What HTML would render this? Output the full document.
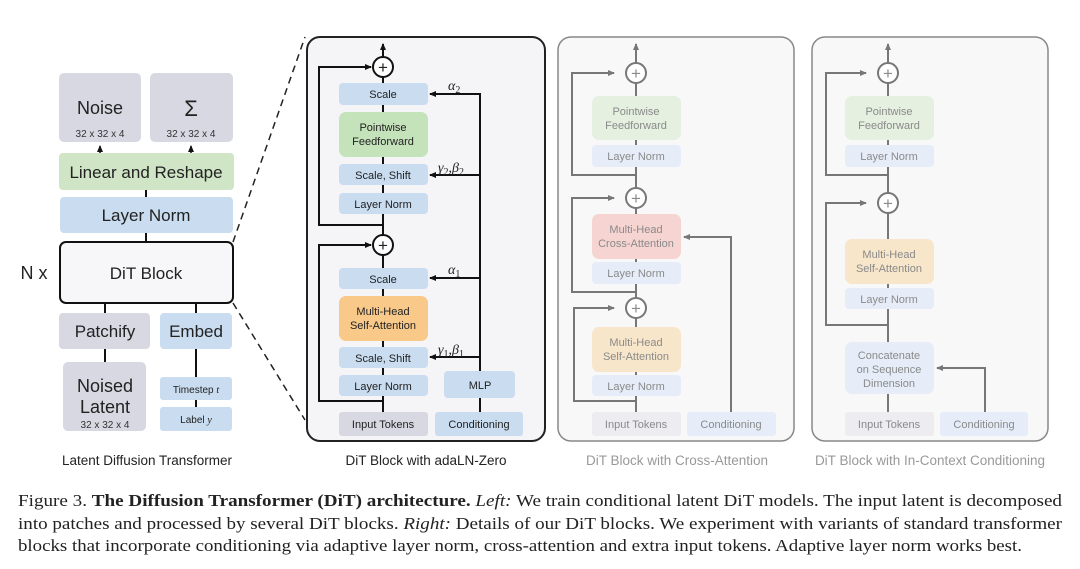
<!DOCTYPE html>
<html><head><meta charset="utf-8"><style>
html,body{margin:0;padding:0;background:#fff;}
svg{display:block;}
text{font-family:"Liberation Sans",sans-serif;}
.s{font-family:"Liberation Serif",serif;}
</style></head><body>
<svg width="1080" height="569" viewBox="0 0 1080 569" xmlns="http://www.w3.org/2000/svg">
<defs>
<marker id="a" markerWidth="8" markerHeight="8" refX="6" refY="4" orient="auto" markerUnits="userSpaceOnUse"><path d="M0,1 L7,4 L0,7 z" fill="#111"/></marker>
<marker id="g" markerWidth="8" markerHeight="8" refX="6" refY="4" orient="auto" markerUnits="userSpaceOnUse"><path d="M0,1 L7,4 L0,7 z" fill="#777"/></marker>
</defs>
<rect width="1080" height="569" fill="#fff"/>

<!-- LEFT PANEL -->
<g>
<line x1="233" y1="242" x2="305" y2="37" stroke="#222" stroke-width="1.5" stroke-dasharray="7,5"/>
<line x1="233" y1="303" x2="305" y2="420" stroke="#222" stroke-width="1.5" stroke-dasharray="7,5"/>
<rect x="59" y="73" width="82" height="69" rx="5" fill="#d8d8e2"/>
<text x="100" y="114" font-size="18" text-anchor="middle" fill="#222">Noise</text>
<text x="100" y="137" font-size="10" text-anchor="middle" fill="#333">32 x 32 x 4</text>
<rect x="150" y="73" width="83" height="69" rx="5" fill="#d8d8e2"/>
<text x="191" y="116" font-size="22" text-anchor="middle" fill="#222">Σ</text>
<text x="191" y="137" font-size="10" text-anchor="middle" fill="#333">32 x 32 x 4</text>
<line x1="100" y1="153" x2="100" y2="146" stroke="#111" stroke-width="1.5" marker-end="url(#a)"/>
<line x1="191" y1="153" x2="191" y2="146" stroke="#111" stroke-width="1.5" marker-end="url(#a)"/>
<rect x="59" y="153" width="175" height="37" rx="4" fill="#cfe5c6"/>
<text x="146" y="178" font-size="17" text-anchor="middle" fill="#222">Linear and Reshape</text>
<line x1="146" y1="190" x2="146" y2="197" stroke="#111" stroke-width="2"/>
<rect x="60" y="197" width="173" height="36" rx="4" fill="#c9dcf0"/>
<text x="146" y="221" font-size="17" text-anchor="middle" fill="#222">Layer Norm</text>
<line x1="146" y1="233" x2="146" y2="242" stroke="#111" stroke-width="2"/>
<rect x="60" y="242" width="173" height="61" rx="6" fill="#f7f7f9" stroke="#111" stroke-width="2"/>
<text x="146" y="279" font-size="17" text-anchor="middle" fill="#222">DiT Block</text>
<text x="34" y="279" font-size="18" text-anchor="middle" fill="#222">N x</text>
<line x1="105" y1="303" x2="105" y2="313" stroke="#111" stroke-width="2"/>
<line x1="196" y1="303" x2="196" y2="313" stroke="#111" stroke-width="2"/>
<rect x="59" y="313" width="91" height="36" rx="4" fill="#d8d8e2"/>
<text x="105" y="337" font-size="17" text-anchor="middle" fill="#222">Patchify</text>
<rect x="160" y="313" width="72" height="36" rx="4" fill="#c9dcf0"/>
<text x="196" y="337" font-size="17" text-anchor="middle" fill="#222">Embed</text>
<line x1="105" y1="349" x2="105" y2="362" stroke="#111" stroke-width="2"/>
<line x1="196" y1="349" x2="196" y2="377" stroke="#111" stroke-width="2"/>
<line x1="196" y1="400" x2="196" y2="407" stroke="#111" stroke-width="2"/>
<rect x="63" y="362" width="83" height="69" rx="5" fill="#d8d8e2"/>
<text x="105" y="392" font-size="18" text-anchor="middle" fill="#222">Noised</text>
<text x="105" y="413" font-size="18" text-anchor="middle" fill="#222">Latent</text>
<text x="105" y="428" font-size="10" text-anchor="middle" fill="#333">32 x 32 x 4</text>
<rect x="160" y="377" width="72" height="23" rx="3" fill="#c9dcf0"/>
<text x="196" y="393" font-size="10" text-anchor="middle" fill="#222">Timestep <tspan font-style="italic" class="s">t</tspan></text>
<rect x="160" y="407" width="72" height="24" rx="3" fill="#c9dcf0"/>
<text x="196" y="423" font-size="10" text-anchor="middle" fill="#222">Label <tspan font-style="italic" class="s">y</tspan></text>
<text x="147" y="465" font-size="13.5" text-anchor="middle" fill="#222">Latent Diffusion Transformer</text>
</g>

<!-- PANEL 2 adaLN-Zero -->
<g font-size="11" fill="#222">
<rect x="307" y="37" width="238" height="404" rx="13" fill="#f5f5f7" stroke="#222" stroke-width="2"/>
<line x1="383" y1="412" x2="383" y2="77" stroke="#111" stroke-width="2"/>
<line x1="383" y1="57" x2="383" y2="44" stroke="#111" stroke-width="2" marker-end="url(#a)"/>
<polyline points="383,225 319,225 319,67 371,67" fill="none" stroke="#111" stroke-width="2" marker-end="url(#a)"/>
<polyline points="383,401 319,401 319,245 371,245" fill="none" stroke="#111" stroke-width="2" marker-end="url(#a)"/>
<line x1="480" y1="371" x2="480" y2="93" stroke="#111" stroke-width="2"/>
<line x1="481" y1="94" x2="430" y2="94" stroke="#111" stroke-width="2" marker-end="url(#a)"/>
<line x1="480" y1="175" x2="430" y2="175" stroke="#111" stroke-width="2" marker-end="url(#a)"/>
<line x1="480" y1="278" x2="430" y2="278" stroke="#111" stroke-width="2" marker-end="url(#a)"/>
<line x1="480" y1="357" x2="430" y2="357" stroke="#111" stroke-width="2" marker-end="url(#a)"/>
<circle cx="383" cy="67" r="10" fill="#fff" stroke="#111" stroke-width="2"/>
<text x="383" y="73" font-size="17" text-anchor="middle">+</text>
<circle cx="383" cy="245" r="10" fill="#fff" stroke="#111" stroke-width="2"/>
<text x="383" y="251" font-size="17" text-anchor="middle">+</text>
<rect x="339" y="83" width="89" height="22" rx="4" fill="#c9dcf0"/><text x="383" y="98" text-anchor="middle">Scale</text>
<rect x="339" y="112" width="89" height="45" rx="7" fill="#c5e3bb"/><text x="383" y="131" text-anchor="middle">Pointwise</text><text x="383" y="145" text-anchor="middle">Feedforward</text>
<rect x="339" y="164" width="89" height="21" rx="4" fill="#c9dcf0"/><text x="383" y="179" text-anchor="middle">Scale, Shift</text>
<rect x="339" y="193" width="89" height="21" rx="4" fill="#c9dcf0"/><text x="383" y="208" text-anchor="middle">Layer Norm</text>
<rect x="339" y="268" width="89" height="21" rx="4" fill="#c9dcf0"/><text x="383" y="283" text-anchor="middle">Scale</text>
<rect x="339" y="296" width="89" height="45" rx="7" fill="#f9c98a"/><text x="383" y="315" text-anchor="middle">Multi-Head</text><text x="383" y="329" text-anchor="middle">Self-Attention</text>
<rect x="339" y="347" width="89" height="21" rx="4" fill="#c9dcf0"/><text x="383" y="362" text-anchor="middle">Scale, Shift</text>
<rect x="339" y="375" width="89" height="21" rx="4" fill="#c9dcf0"/><text x="383" y="390" text-anchor="middle">Layer Norm</text>
<rect x="444" y="371" width="71" height="27" rx="4" fill="#c9dcf0"/><text x="480" y="389" text-anchor="middle">MLP</text>
<line x1="480" y1="398" x2="480" y2="412" stroke="#111" stroke-width="2"/>
<rect x="339" y="412" width="89" height="24" rx="3" fill="#d8d8e2"/><text x="383" y="428" text-anchor="middle">Input Tokens</text>
<rect x="435" y="412" width="88" height="24" rx="3" fill="#c9dcf0"/><text x="479" y="428" text-anchor="middle">Conditioning</text>
<text class="s" x="448" y="90" font-size="14" font-style="italic">α<tspan font-size="10" dy="3" font-style="normal">2</tspan></text>
<text class="s" x="438" y="172" font-size="14" font-style="italic">γ<tspan font-size="10" dy="3" font-style="normal">2</tspan><tspan dy="-3" font-style="normal">,</tspan>β<tspan font-size="10" dy="3" font-style="normal">2</tspan></text>
<text class="s" x="448" y="274" font-size="14" font-style="italic">α<tspan font-size="10" dy="3" font-style="normal">1</tspan></text>
<text class="s" x="438" y="354" font-size="14" font-style="italic">γ<tspan font-size="10" dy="3" font-style="normal">1</tspan><tspan dy="-3" font-style="normal">,</tspan>β<tspan font-size="10" dy="3" font-style="normal">1</tspan></text>
<text x="426" y="465" font-size="13.5" text-anchor="middle">DiT Block with adaLN-Zero</text>
</g>

<!-- PANEL 3 Cross-Attention -->
<g font-size="11" fill="#8a8a8a">
<rect x="558" y="37" width="236" height="404" rx="13" fill="#f8f8f9" stroke="#888" stroke-width="1.5"/>
<line x1="636" y1="412" x2="636" y2="83" stroke="#777" stroke-width="2"/>
<line x1="636" y1="63" x2="636" y2="44" stroke="#777" stroke-width="2" marker-end="url(#g)"/>
<polyline points="636,175 572,175 572,73 614,73" fill="none" stroke="#777" stroke-width="2" marker-end="url(#g)"/>
<polyline points="636,292 572,292 572,198 614,198" fill="none" stroke="#777" stroke-width="2" marker-end="url(#g)"/>
<polyline points="636,401 574,401 574,308 614,308" fill="none" stroke="#777" stroke-width="2" marker-end="url(#g)"/>
<polyline points="731,412 731,237 684,237" fill="none" stroke="#777" stroke-width="2" marker-end="url(#g)"/>
<circle cx="636" cy="73" r="10" fill="#fff" stroke="#777" stroke-width="2"/><text x="636" y="79" font-size="17" text-anchor="middle">+</text>
<circle cx="636" cy="198" r="10" fill="#fff" stroke="#777" stroke-width="2"/><text x="636" y="204" font-size="17" text-anchor="middle">+</text>
<circle cx="636" cy="308" r="10" fill="#fff" stroke="#777" stroke-width="2"/><text x="636" y="314" font-size="17" text-anchor="middle">+</text>
<rect x="592" y="96" width="89" height="44" rx="7" fill="#e5f0e0"/><text x="636" y="115" text-anchor="middle">Pointwise</text><text x="636" y="129" text-anchor="middle">Feedforward</text>
<rect x="592" y="145" width="89" height="22" rx="4" fill="#e6edf8"/><text x="636" y="160" text-anchor="middle">Layer Norm</text>
<rect x="592" y="214" width="89" height="45" rx="7" fill="#f6d4d2"/><text x="636" y="233" text-anchor="middle">Multi-Head</text><text x="636" y="247" text-anchor="middle">Cross-Attention</text>
<rect x="592" y="262" width="89" height="22" rx="4" fill="#e6edf8"/><text x="636" y="277" text-anchor="middle">Layer Norm</text>
<rect x="592" y="327" width="89" height="45" rx="7" fill="#f8e6cb"/><text x="636" y="346" text-anchor="middle">Multi-Head</text><text x="636" y="360" text-anchor="middle">Self-Attention</text>
<rect x="592" y="375" width="89" height="21" rx="4" fill="#e6edf8"/><text x="636" y="390" text-anchor="middle">Layer Norm</text>
<rect x="592" y="412" width="89" height="24" rx="3" fill="#ececf1"/><text x="636" y="428" text-anchor="middle">Input Tokens</text>
<rect x="687" y="412" width="89" height="24" rx="3" fill="#e6edf8"/><text x="731" y="428" text-anchor="middle">Conditioning</text>
<text x="677" y="465" font-size="13.5" text-anchor="middle" fill="#999">DiT Block with Cross-Attention</text>
</g>

<!-- PANEL 4 In-Context -->
<g font-size="11" fill="#8a8a8a">
<rect x="812" y="37" width="236" height="404" rx="13" fill="#f8f8f9" stroke="#888" stroke-width="1.5"/>
<line x1="888" y1="412" x2="888" y2="83" stroke="#777" stroke-width="2"/>
<line x1="888" y1="63" x2="888" y2="44" stroke="#777" stroke-width="2" marker-end="url(#g)"/>
<polyline points="888,175 826,175 826,73 866,73" fill="none" stroke="#777" stroke-width="2" marker-end="url(#g)"/>
<polyline points="888,325 826,325 826,203 866,203" fill="none" stroke="#777" stroke-width="2" marker-end="url(#g)"/>
<polyline points="985,412 985,368 937,368" fill="none" stroke="#777" stroke-width="2" marker-end="url(#g)"/>
<circle cx="888" cy="73" r="10" fill="#fff" stroke="#777" stroke-width="2"/><text x="888" y="79" font-size="17" text-anchor="middle">+</text>
<circle cx="888" cy="203" r="10" fill="#fff" stroke="#777" stroke-width="2"/><text x="888" y="209" font-size="17" text-anchor="middle">+</text>
<rect x="845" y="96" width="89" height="44" rx="7" fill="#e5f0e0"/><text x="889" y="115" text-anchor="middle">Pointwise</text><text x="889" y="129" text-anchor="middle">Feedforward</text>
<rect x="845" y="145" width="89" height="22" rx="4" fill="#e6edf8"/><text x="889" y="160" text-anchor="middle">Layer Norm</text>
<rect x="845" y="239" width="89" height="45" rx="7" fill="#f8e6cb"/><text x="889" y="258" text-anchor="middle">Multi-Head</text><text x="889" y="272" text-anchor="middle">Self-Attention</text>
<rect x="845" y="288" width="89" height="21" rx="4" fill="#e6edf8"/><text x="889" y="303" text-anchor="middle">Layer Norm</text>
<rect x="845" y="342" width="89" height="52" rx="7" fill="#e6edf8"/><text x="889" y="359" text-anchor="middle">Concatenate</text><text x="889" y="373" text-anchor="middle">on Sequence</text><text x="889" y="387" text-anchor="middle">Dimension</text>
<rect x="845" y="412" width="89" height="24" rx="3" fill="#ececf1"/><text x="889" y="428" text-anchor="middle">Input Tokens</text>
<rect x="940" y="412" width="88" height="24" rx="3" fill="#e6edf8"/><text x="984" y="428" text-anchor="middle">Conditioning</text>
<text x="930" y="465" font-size="13.5" text-anchor="middle" fill="#999">DiT Block with In-Context Conditioning</text>
</g>

<!-- CAPTION -->
<g class="s" font-size="17" fill="#222">
<text class="s" x="18" y="506" textLength="1044" lengthAdjust="spacingAndGlyphs">Figure 3. <tspan font-weight="bold">The Diffusion Transformer (DiT) architecture.</tspan> <tspan font-style="italic">Left:</tspan> We train conditional latent DiT models. The input latent is decomposed</text>
<text class="s" x="18" y="529" textLength="1044" lengthAdjust="spacingAndGlyphs">into patches and processed by several DiT blocks. <tspan font-style="italic">Right:</tspan> Details of our DiT blocks. We experiment with variants of standard transformer</text>
<text class="s" x="18" y="551" textLength="1004" lengthAdjust="spacingAndGlyphs">blocks that incorporate conditioning via adaptive layer norm, cross-attention and extra input tokens. Adaptive layer norm works best.</text>
</g>
</svg>
</body></html>
